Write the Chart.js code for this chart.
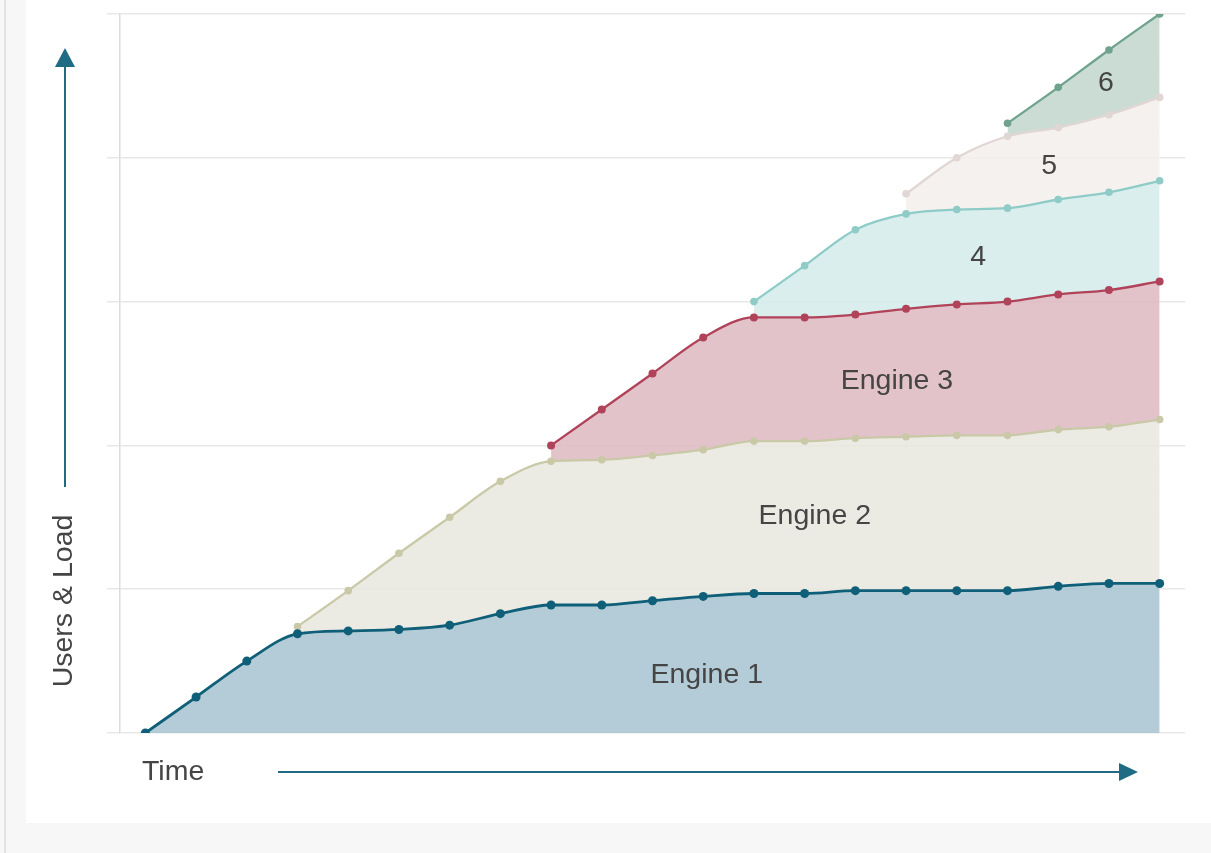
<!DOCTYPE html>
<html>
<head>
<meta charset="utf-8">
<title>Users & Load over Time</title>
<script src="https://cdn.jsdelivr.net/npm/chart.js@4.4.1/dist/chart.umd.min.js"></script>
<style>
  html, body { margin: 0; padding: 0; }
  body { width: 1211px; height: 853px; background: #f7f7f7; position: relative; overflow: hidden; }
  .edge { position: absolute; left: 4px; top: 0; width: 2px; height: 853px; background: #e2e2e2; }
  .panel { position: absolute; left: 26px; top: 0; width: 1185px; height: 823px; background: #fff; }
</style>
</head>
<body>
<div class="edge"></div>
<div class="panel">
  <canvas id="chart"></canvas>
</div>
<script>
// time steps along the x axis
const steps = [0, 1, 2, 3, 4, 5, 6, 7, 8, 9, 10, 11, 12, 13, 14, 15, 16, 17, 18, 19, 20];

// load carried by each engine, stacked (top edge of each band)
const engine1 = [0, 0.25, 0.50, 0.69, 0.71, 0.72, 0.75, 0.83, 0.89, 0.89, 0.92, 0.95, 0.97, 0.97, 0.99, 0.99, 0.99, 0.99, 1.02, 1.04, 1.04];
const engine2 = [null, null, null, 0.74, 0.99, 1.25, 1.50, 1.75, 1.89, 1.90, 1.93, 1.97, 2.03, 2.03, 2.05, 2.06, 2.07, 2.07, 2.11, 2.13, 2.18];
const engine3 = [null, null, null, null, null, null, null, null, 2.00, 2.25, 2.50, 2.75, 2.89, 2.89, 2.91, 2.95, 2.98, 3.00, 3.05, 3.08, 3.14];
const engine4 = [null, null, null, null, null, null, null, null, null, null, null, null, 3.00, 3.25, 3.50, 3.61, 3.64, 3.65, 3.71, 3.76, 3.84];
const engine5 = [null, null, null, null, null, null, null, null, null, null, null, null, null, null, null, 3.75, 4.00, 4.15, 4.21, 4.30, 4.42];
const engine6 = [null, null, null, null, null, null, null, null, null, null, null, null, null, null, null, null, null, 4.24, 4.49, 4.75, 5.00];

// band labels and where they sit (data units)
const bandNames = ["Engine 1", "Engine 2", "Engine 3", "4", "5", "6"];
const bandLabelX = [11.07, 13.2, 14.82, 16.42, 17.82, 18.94];
const bandLabelY = [0.40, 1.51, 2.45, 3.31, 3.94, 4.52];

const yTicks = [0, 1, 2, 3, 4, 5];

const INK = "#454545";
const ARROW = "#1f6b84";
const FONT = '"Liberation Sans", Arial, Helvetica, sans-serif';

function toPoints(values) {
  return values.map((v, i) => ({ x: steps[i], y: v }));
}

function band(label, values, line, fill, fillTo, radius) {
  return {
    label,
    data: toPoints(values),
    borderColor: line,
    backgroundColor: fill,
    pointBackgroundColor: line,
    pointBorderColor: line,
    pointRadius: radius,
    pointBorderWidth: 0,
    borderWidth: radius > 4 ? 2.8 : 2.3,
    cubicInterpolationMode: "monotone",
    fill: fillTo,
  };
}

// arrows, axis words and band names
const decorations = {
  id: "decorations",
  afterDatasetsDraw(chart) {
    const { ctx, chartArea, scales } = chart;
    ctx.save();

    ctx.fillStyle = INK;
    ctx.font = "28.5px " + FONT;
    ctx.textAlign = "center";
    ctx.textBaseline = "middle";
    bandNames.forEach((name, i) => {
      ctx.fillText(name, scales.x.getPixelForValue(bandLabelX[i]), scales.y.getPixelForValue(bandLabelY[i]));
    });

    // y axis word + arrow
    const ax = chartArea.left - 55;
    ctx.save();
    ctx.translate(ax - 1, 601);
    ctx.rotate(-Math.PI / 2);
    ctx.fillText("Users & Load", 0, 0);
    ctx.restore();

    ctx.strokeStyle = ARROW;
    ctx.fillStyle = ARROW;
    ctx.lineWidth = 2;
    ctx.beginPath();
    ctx.moveTo(ax, 487);
    ctx.lineTo(ax, 64);
    ctx.stroke();
    ctx.beginPath();
    ctx.moveTo(ax, 48);
    ctx.lineTo(ax - 10, 67);
    ctx.lineTo(ax + 10, 67);
    ctx.closePath();
    ctx.fill();

    // x axis word + arrow
    const ay = 772;
    ctx.fillStyle = INK;
    ctx.textAlign = "left";
    ctx.fillText("Time", chartArea.left + 22, ay);

    ctx.fillStyle = ARROW;
    ctx.beginPath();
    ctx.moveTo(252, ay);
    ctx.lineTo(1095, ay);
    ctx.stroke();
    ctx.beginPath();
    ctx.moveTo(1112, ay);
    ctx.lineTo(1093, ay - 9);
    ctx.lineTo(1093, ay + 9);
    ctx.closePath();
    ctx.fill();

    ctx.restore();
  }
};

new Chart(document.getElementById("chart"), {
  type: "line",
  data: {
    datasets: [
      band("Engine 1", engine1, "#0f5f78", "rgba(166, 195, 208, 0.85)", "origin", 4.5),
      band("Engine 2", engine2, "#c9c9a8", "rgba(231, 230, 222, 0.85)", "-1", 3.8),
      band("Engine 3", engine3, "#b0435a", "rgba(222, 184, 193, 0.85)", "-1", 4),
      band("4", engine4, "#8fcbc7", "rgba(211, 235, 235, 0.85)", "-1", 3.8),
      band("5", engine5, "#e0d6d3", "rgba(242, 238, 235, 0.85)", "-1", 3.8),
      band("6", engine6, "#6fa38d", "rgba(194, 214, 206, 0.85)", "-1", 3.8),
    ],
  },
  options: {
    responsive: true,
    maintainAspectRatio: false,
    animation: false,
    layout: { padding: { left: 81, right: 26, top: 14, bottom: 90 } },
    plugins: {
      legend: { display: false },
      tooltip: { enabled: false },
    },
    scales: {
      x: {
        type: "linear",
        min: -0.5,
        max: 20.5,
        display: false,
      },
      y: {
        min: yTicks[0],
        max: yTicks[yTicks.length - 1],
        afterBuildTicks: scale => { scale.ticks = yTicks.map(v => ({ value: v })); },
        afterFit: scale => { scale.width = 13; },
        ticks: { display: false },
        grid: { color: "#e8e8e8", lineWidth: 1.5, tickLength: 13, drawTicks: true },
        border: { display: true, color: "#dcdcdc", width: 1.5 },
      },
    },
  },
  plugins: [decorations],
});
</script>
</body>
</html>
